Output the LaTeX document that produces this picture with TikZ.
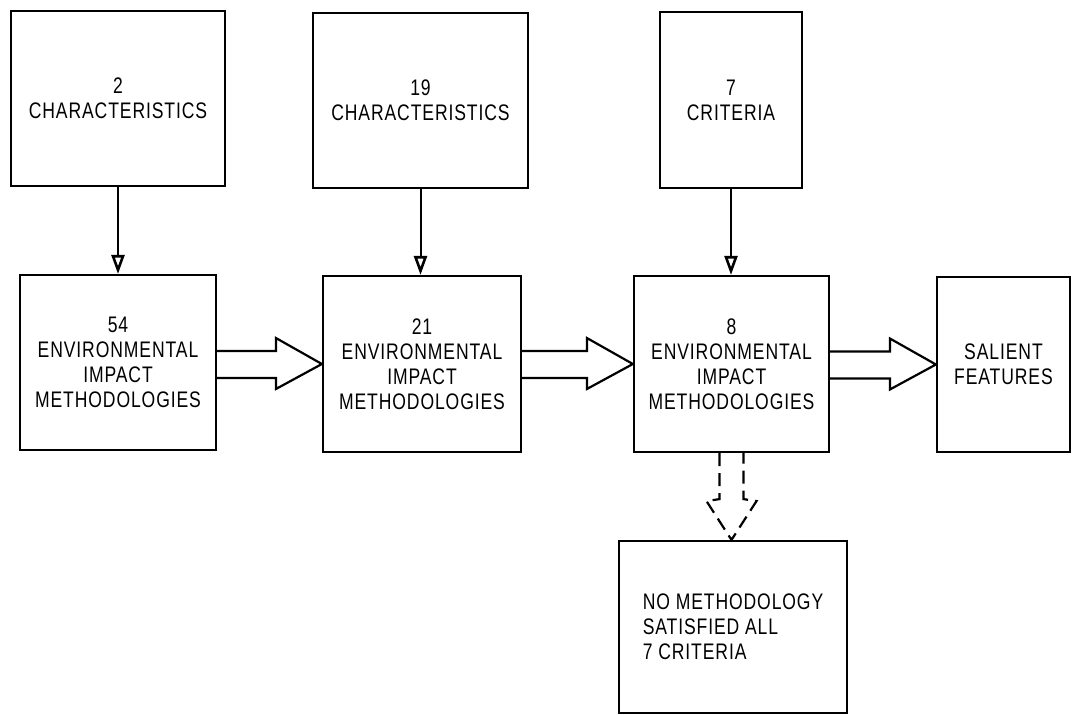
\documentclass[tikz,border=0pt]{standalone}
\usepackage{fontspec}
\setmainfont{Liberation Sans}[FakeStretch=0.78,LetterSpace=4]
\usetikzlibrary{calc,arrows.meta}

\begin{document}
\begin{tikzpicture}[x=1pt, y=-1pt, line width=2.2pt,
   box/.style={rectangle, draw, align=center, inner sep=2pt,
     font=\fontsize{22.5}{25}\selectfont},
   feed/.style={-{Triangle[open, length=19pt, width=13pt, line width=2.6pt]}, line width=2pt},
   fat/.style={line join=miter},
   fatdash/.style={fat, dash pattern=on 13pt off 7pt}]

  \useasboundingbox (0,0) rectangle (1072,715);

  % top row
  \node [box, minimum width=214pt, minimum height=175pt] (chars2) at (118,98.5) {2\\CHARACTERISTICS};
  \node [box, minimum width=215pt, minimum height=175pt] (chars19) at (420.5,100.5) {19\\CHARACTERISTICS};
  \node [box, minimum width=142pt, minimum height=176pt] (crit7) at (731,100) {7\\CRITERIA};

  % middle row
  \node [box, minimum width=196pt, minimum height=175pt] (eim54) at (118,362.5)
    {54\\ENVIRONMENTAL\\IMPACT\\METHODOLOGIES};
  \node [box, minimum width=198pt, minimum height=176pt] (eim21) at (422,364)
    {21\\ENVIRONMENTAL\\IMPACT\\METHODOLOGIES};
  \node [box, minimum width=195pt, minimum height=176pt] (eim8) at (731.5,364)
    {8\\ENVIRONMENTAL\\IMPACT\\METHODOLOGIES};
  \node [box, minimum width=133pt, minimum height=175pt] (salient) at (1003.5,364.5)
    {SALIENT\\FEATURES};

  % bottom
  \node [box, align=left, minimum width=228pt, minimum height=172pt] (none) at (733,627)
    {NO METHODOLOGY\\SATISFIED ALL\\7 CRITERIA};

  \foreach \a/\b in {chars2/eim54, chars19/eim21, crit7/eim8}
    \draw [feed] (\a.south) -- (\a.south |- \b.north);

  \foreach \a/\b in {eim54/eim21, eim21/eim8, eim8/salient}
    \draw [fat] ($(\a.east |- \b.west)+(0,-13)$) -- ($(\b.west)+(-46,-13)$)
      -- ($(\b.west)+(-46,-26)$) -- (\b.west) -- ($(\b.west)+(-46,25)$)
      -- ($(\b.west)+(-46,14)$) -- ($(\a.east |- \b.west)+(0,14)$);

  \draw [fatdash] ($(eim8.south)+(-12,0)$) -- ($(eim8.south)+(-12,46)$)
    -- ($(eim8.south)+(-25,48)$) -- (eim8.south |- none.north)
    -- ($(eim8.south)+(25,48)$) -- ($(eim8.south)+(12,46)$) -- ($(eim8.south)+(12,0)$);
\end{tikzpicture}
\end{document}
